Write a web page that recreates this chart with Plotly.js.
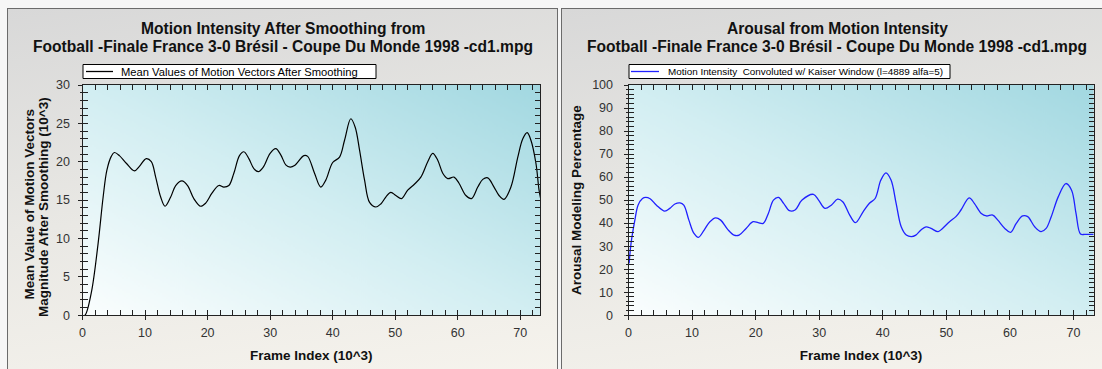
<!DOCTYPE html>
<html>
<head>
<meta charset="utf-8">
<script src="https://cdn.plot.ly/plotly-3.0.1.min.js"></script>
<style>
  html, body { margin:0; padding:0; width:1102px; height:369px; overflow:hidden; background:#f6f6f6; }
  .panel { position:absolute; top:8px; height:420px; border:1px solid #6b6b6b;
           background: linear-gradient(172deg, #d8d8d8 0%, #e9e8e4 45%, #f9f6ef 100%); }
  #p1 { left:7px; width:549px; }
  #p2 { left:561px; width:600px; }
  #chart { position:absolute; left:0; top:0; width:1102px; height:369px; }
</style>
</head>
<body>
<div class="panel" id="p1"></div>
<div class="panel" id="p2"></div>
<div id="chart"></div>
<script>
// ---- Data ----
const smoothX = [0, 0.4, 1.4, 2.5, 3.3, 3.9, 4.6, 5.1, 5.9, 7.0, 8.3, 9.1, 10.2, 11.0, 11.7, 12.5, 13.2, 14.1, 14.9, 15.9, 16.8, 17.8, 18.9, 19.7, 20.7, 21.8, 22.6, 23.4, 24.2, 25.1, 25.8, 26.6, 27.4, 28.1, 28.9, 30.0, 30.9, 31.7, 32.5, 33.2, 33.9, 35.4, 36.0, 37.1, 38.1, 38.9, 40.0, 41.1, 41.9, 42.9, 43.6, 44.3, 45.1, 45.9, 46.9, 47.7, 48.5, 49.3, 50.1, 51.0, 52.0, 53.1, 54.1, 55.2, 56.0, 56.8, 57.6, 58.4, 59.4, 60.2, 61.3, 62.2, 63.2, 64.0, 64.8, 65.8, 66.6, 67.4, 68.5, 69.6, 70.4, 71.1, 71.7, 72.5, 73.0, 73.3];
const smoothY = [0, 0, 2.9, 9.4, 15.4, 18.9, 20.7, 21.2, 20.8, 19.8, 18.8, 19.4, 20.4, 20.0, 18.0, 15.4, 14.2, 15.4, 16.9, 17.5, 16.9, 15.2, 14.2, 14.6, 15.9, 16.9, 16.7, 16.9, 18.5, 20.8, 21.3, 20.4, 19.1, 18.7, 19.3, 21.1, 21.7, 20.9, 19.6, 19.3, 19.5, 20.8, 20.7, 18.5, 16.7, 17.6, 19.9, 20.6, 22.8, 25.6, 24.5, 21.5, 17.6, 14.7, 14.1, 14.5, 15.4, 16.0, 15.6, 15.2, 16.3, 17.1, 18.0, 20.0, 21.1, 20.2, 18.5, 17.8, 18.0, 17.2, 15.6, 15.2, 16.7, 17.7, 17.9, 16.7, 15.6, 15.1, 16.7, 20.6, 23.0, 23.8, 22.8, 19.8, 16.3, 15.0];

const arousalX = [0.1, 0.4, 1.0, 1.5, 2.2, 2.7, 3.4, 4.4, 5.7, 6.5, 7.3, 8.1, 8.7, 9.5, 10.3, 11.0, 11.9, 12.8, 13.7, 14.5, 15.6, 16.6, 17.4, 18.5, 19.6, 20.4, 21.2, 22.0, 22.8, 23.6, 24.4, 25.3, 26.2, 27.3, 29.1, 29.9, 30.9, 31.9, 32.9, 33.7, 34.8, 35.7, 36.9, 37.9, 38.8, 39.7, 40.5, 41.3, 42.1, 42.9, 43.7, 44.5, 45.2, 46.0, 46.8, 47.6, 48.7, 49.4, 50.5, 51.5, 52.3, 53.6, 54.4, 55.5, 56.3, 57.3, 58.1, 59.2, 60.1, 61.0, 62.0, 62.8, 63.9, 64.9, 65.7, 66.5, 67.6, 68.8, 69.7, 70.4, 71.1, 71.8, 73.3];
const arousalY = [22.5, 31.2, 41.3, 47.8, 50.7, 51.2, 50.6, 47.8, 45.2, 46.4, 48.3, 48.8, 47.8, 41.3, 35.5, 33.8, 37.0, 40.6, 42.3, 41.3, 37.3, 34.8, 34.8, 37.7, 40.6, 40.2, 39.9, 44.2, 50.0, 51.2, 48.6, 45.4, 45.7, 50.0, 52.5, 50.0, 46.4, 47.8, 50.4, 49.3, 43.5, 40.2, 44.9, 48.6, 50.7, 58.7, 61.8, 58.7, 48.6, 38.4, 34.8, 34.1, 34.8, 37.0, 38.4, 37.7, 36.3, 37.7, 40.6, 42.8, 45.7, 51.0, 48.6, 44.2, 43.1, 43.5, 41.3, 37.7, 36.0, 39.9, 43.1, 42.8, 38.4, 36.3, 37.7, 42.8, 51.4, 57.2, 54.3, 44.2, 35.3, 35.1, 35.1];

const titleLeft = ["Motion Intensity After Smoothing from", "Football -Finale France 3-0 Brésil - Coupe Du Monde 1998 -cd1.mpg"];
const titleRight = ["Arousal from Motion Intensity", "Football -Finale France 3-0 Brésil - Coupe Du Monde 1998 -cd1.mpg"];
const legendLeft = "Mean Values of Motion Vectors After Smoothing";
const legendRight = "Motion Intensity  Convoluted w/ Kaiser Window (l=4889 alfa=5)";
const xTitle = "Frame Index (10^3)";
const yTitleLeft = ["Mean Value of Motion Vectors", "Magnitude After Smoothing (10^3)"];
const yTitleRight = "Arousal Modeling Percentage";

// ---- Layout geometry ----
const W = 1102, H = 369;
const px = v => v / W, py = v => (H - v) / H;
const dxL = [px(82.5), px(540)], dxR = [px(628.5), px(1093.5)];
const dy = [py(315.2), py(85)];
const xRange = [0, 73.15];

function gradientURL() {
  const w = 460, h = 230;
  const c = document.createElement('canvas');
  c.width = w; c.height = h;
  const g = c.getContext('2d');
  const lg = g.createLinearGradient(0, h, 184, h - 368);
  lg.addColorStop(0, '#fbfefe');
  lg.addColorStop(0.5, '#d2eef2');
  lg.addColorStop(1, '#a2d8e1');
  g.fillStyle = lg; g.fillRect(0, 0, w, h);
  return c.toDataURL();
}
const grad = gradientURL();

const fam = 'Liberation Sans, Arial, sans-serif';
const tickFont = {family: fam, size: 12.5, color: '#333'};
const axTitleFont = {family: fam, size: 13.5, color: '#111', weight: 'bold'};

function mainX(domain, anchor) {
  return {domain, anchor, range: xRange, dtick: 10, tick0: 0, ticks: 'inside', ticklen: 5, tickwidth: 1,
    tickcolor: '#222', minor: {dtick: 2, ticks: 'inside', ticklen: 3, tickcolor: '#222', showgrid: false},
    showline: true, linecolor: '#222', linewidth: 1, mirror: 'allticks', showgrid: false, zeroline: false,
    tickfont: tickFont, ticklabelstandoff: 6,
    title: {text: xTitle, font: axTitleFont, standoff: 11}};
}
function mainY(domain, anchor, range, dtick, minorDtick, title, standoff, tstand) {
  const ax = {domain, anchor, range, dtick, tick0: 0, ticks: 'inside', ticklen: 5, tickwidth: 1,
    tickcolor: '#222', minor: {dtick: minorDtick, ticks: 'inside', ticklen: 3, tickcolor: '#222', showgrid: false},
    showline: true, linecolor: '#222', linewidth: 1, mirror: 'allticks', showgrid: false, zeroline: false,
    tickfont: tickFont, ticklabelstandoff: standoff};
  if (title) ax.title = {text: title, font: axTitleFont, standoff: tstand};
  return ax;
}
function overX(over, anchor) {
  return {overlaying: over, anchor, range: xRange, dtick: 10, tick0: 0, ticks: 'outside', ticklen: 4,
    tickcolor: '#222', showticklabels: false, showline: false, showgrid: false, zeroline: false};
}
function overY(over, anchor, range, dtick, minorDtick) {
  return {overlaying: over, anchor, range, dtick, tick0: 0, ticks: 'outside', ticklen: 4,
    tickcolor: '#222', minor: {dtick: minorDtick, ticks: 'outside', ticklen: 2, tickcolor: '#222', showgrid: false},
    showticklabels: false, showline: false, showgrid: false, zeroline: false};
}

const traces = [
  {x: smoothX, y: smoothY, xaxis: 'x', yaxis: 'y', name: legendLeft, mode: 'lines',
   line: {color: '#000', width: 1.2, shape: 'spline', smoothing: 1}, hoverinfo: 'skip'},
  {x: arousalX, y: arousalY, xaxis: 'x2', yaxis: 'y2', name: legendRight, mode: 'lines',
   line: {color: '#2020ff', width: 1.3, shape: 'spline', smoothing: 1}, hoverinfo: 'skip'},
  {x: [], y: [], xaxis: 'x3', yaxis: 'y'},
  {x: [], y: [], xaxis: 'x', yaxis: 'y3'},
  {x: [], y: [], xaxis: 'x4', yaxis: 'y2'},
  {x: [], y: [], xaxis: 'x2', yaxis: 'y4'}
];

// Legend boxes (drawn as shapes + text)
function legendBox(x0, x1, y0, y1, lx0, lx1, color) {
  return [
    {type: 'rect', xref: 'paper', yref: 'paper', x0: px(x0), x1: px(x1), y0: py(y1), y1: py(y0),
     fillcolor: '#fff', line: {color: '#000', width: 1}},
    {type: 'line', xref: 'paper', yref: 'paper', x0: px(lx0), x1: px(lx1), y0: py((y0+y1)/2), y1: py((y0+y1)/2),
     line: {color: color, width: 1.3}}
  ];
}
const shapes = [].concat(
  legendBox(83, 376, 64.5, 78.5, 86, 113, '#000'),
  legendBox(629, 950, 64.5, 78.5, 631, 659, '#2020ff')
);

function title(text, x, y) {
  return {text, xref: 'paper', yref: 'paper', x: px(x), y: py(y), xanchor: 'center', yanchor: 'middle',
    showarrow: false, font: {family: fam, size: 15.6, color: '#111', weight: 'bold'}};
}
function legText(text, x, size) {
  return {text, xref: 'paper', yref: 'paper', x: px(x), y: py(71.8), xanchor: 'left', yanchor: 'middle',
    showarrow: false, font: {family: fam, size, color: '#000'}};
}
function yTitle(text, x, y) {
  return {text, xref: 'paper', yref: 'paper', x: px(x), y: py(y), xanchor: 'center', yanchor: 'middle',
    textangle: -90, showarrow: false, font: axTitleFont};
}

const layout = {
  width: W, height: H, margin: {l: 0, r: 0, t: 0, b: 0},
  paper_bgcolor: 'rgba(0,0,0,0)', plot_bgcolor: 'rgba(0,0,0,0)',
  font: {family: fam}, showlegend: false,
  xaxis: mainX(dxL, 'y'),
  yaxis: mainY(dy, 'x', [0, 30], 5, 1, null, 9, 0),
  xaxis2: mainX(dxR, 'y2'),
  yaxis2: mainY(dy, 'x2', [0, 100], 10, 2, yTitleRight, 12, 7),
  xaxis3: overX('x', 'y'),
  yaxis3: overY('y', 'x', [0, 30], 5, 1),
  xaxis4: overX('x2', 'y2'),
  yaxis4: overY('y2', 'x2', [0, 100], 10, 2),
  shapes,
  images: [
    {source: grad, xref: 'paper', yref: 'paper', x: dxL[0], y: dy[1], sizex: dxL[1]-dxL[0], sizey: dy[1]-dy[0],
     xanchor: 'left', yanchor: 'top', sizing: 'stretch', layer: 'below'},
    {source: grad, xref: 'paper', yref: 'paper', x: dxR[0], y: dy[1], sizex: dxR[1]-dxR[0], sizey: dy[1]-dy[0],
     xanchor: 'left', yanchor: 'top', sizing: 'stretch', layer: 'below'}
  ],
  annotations: [
    title(titleLeft[0], 283, 29), title(titleLeft[1], 283, 46.5),
    title(titleRight[0], 837, 29), title(titleRight[1], 837, 46.5),
    legText(legendLeft, 119, 11.2),
    legText(legendRight, 666, 9.9),
    yTitle(yTitleLeft[0], 28.5, 204), yTitle(yTitleLeft[1], 43, 207)
  ]
};

Plotly.newPlot('chart', traces, layout, {displayModeBar: false, staticPlot: true});
</script>
</body>
</html>
